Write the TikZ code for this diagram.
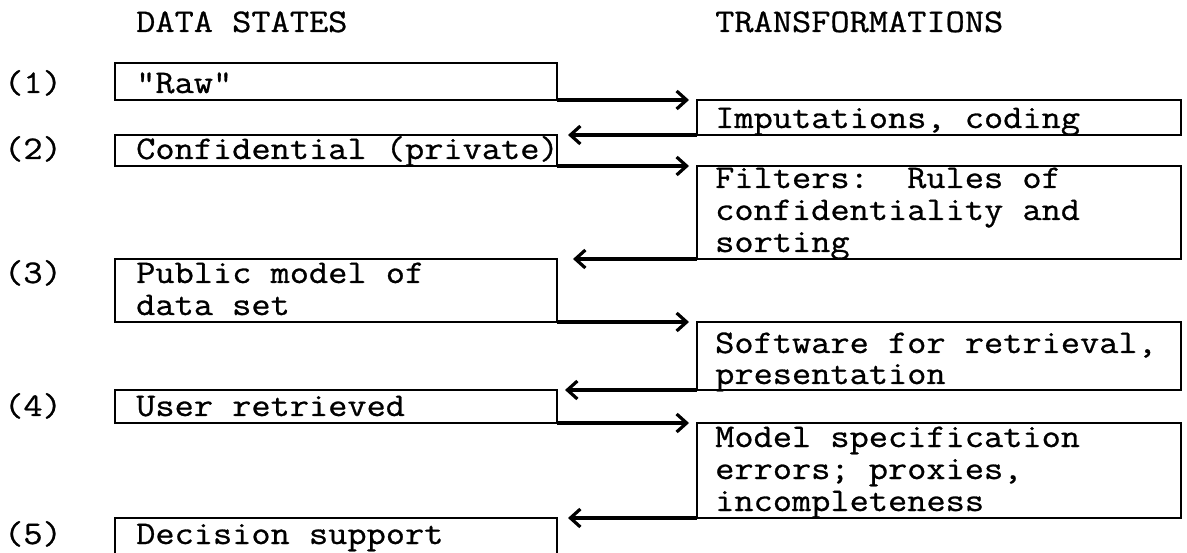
\documentclass[tikz,border=0pt]{standalone}
\usepackage{fontspec}
\newfontfamily\twfont[FakeStretch=1.13,FakeBold=0.8]{Latin Modern Mono}
\usetikzlibrary{arrows.meta}
\begin{document}
\begin{tikzpicture}[x=1pt,y=-1pt,
  box/.style={draw, line width=1.8pt, rectangle, inner sep=0pt, outer sep=0pt, anchor=north west},
  txt/.style={font=\twfont\fontsize{33}{32}\selectfont\frenchspacing, inner sep=0pt, anchor=base west},
  arr/.style={line width=3.4pt, -{Straight Barb[length=10pt,width=18pt,line width=3.2pt]}}]
\useasboundingbox (0,0) rectangle (1187,553);

% titles
\node[txt] (h1) at (136,32) {DATA STATES};
\node[txt] (h2) at (715,32) {TRANSFORMATIONS};

% data state boxes
\node[box, minimum width=442pt, minimum height=37pt] (s1) at (115,63) {};
\node[box, minimum width=442pt, minimum height=31pt] (s2) at (115,135) {};
\node[box, minimum width=442pt, minimum height=63pt] (s3) at (115,259) {};
\node[box, minimum width=442pt, minimum height=33pt] (s4) at (115,390) {};
\node[box, draw=none, minimum width=442pt, minimum height=35pt] (s5) at (115,518) {};
\draw[line width=1.8pt] (s5.south west) -- (s5.north west) -- (s5.north east) -- (s5.south east);

% transformation boxes
\node[box, minimum width=484pt, minimum height=35pt] (t1) at (697,100) {};
\node[box, minimum width=484pt, minimum height=93pt] (t2) at (697,166) {};
\node[box, minimum width=484pt, minimum height=68pt] (t3) at (697,322) {};
\node[box, minimum width=484pt, minimum height=95pt] (t4) at (697,423) {};

% numbers
\node[txt] (n1) at (4,93) {(1)};
\node[txt] (n2) at (4,159) {(2)};
\node[txt] (n3) at (4,283) {(3)};
\node[txt] (n4) at (4,416) {(4)};
\node[txt] (n5) at (4,544) {(5)};

% data state texts
\node[txt] (a1) at (136,93) {"Raw"};
\node[txt] (a2) at (136,159) {Confidential (private)};
\node[txt] (a3) at (136,283) {Public model of};
\node[txt] (a3b) at (136,315) {data set};
\node[txt] (a4) at (136,416) {User retrieved};
\node[txt] (a5) at (136,544) {Decision support};

% transformation texts
\node[txt] (b1) at (715,128) {Imputations, coding};
\node[txt] (b2) at (715,188) {Filters:\ \ Rules of};
\node[txt] (b2b) at (715,220) {confidentiality and};
\node[txt] (b2c) at (715,252) {sorting};
\node[txt] (b3) at (715,353) {Software for retrieval,};
\node[txt] (b3b) at (715,384) {presentation};
\node[txt] (b4) at (715,447) {Model specification};
\node[txt] (b4b) at (715,479) {errors; proxies,};
\node[txt] (b4c) at (715,511) {incompleteness};

% connectors
\draw[arr] (s1.south east) -- ([xshift=-8pt]t1.north west);
\draw[arr] (t1.south west) -- ([xshift=11pt]s2.north east);
\draw[arr] (s2.south east) -- ([xshift=-8pt]t2.north west);
\draw[arr] (t2.south west) -- ([xshift=16pt]s3.north east);
\draw[arr] (s3.south east) -- ([xshift=-8pt]t3.north west);
\draw[arr] (t3.south west) -- ([xshift=8pt]s4.north east);
\draw[arr] (s4.south east) -- ([xshift=-8pt]t4.north west);
\draw[arr] (t4.south west) -- ([xshift=11pt]s5.north east);
\end{tikzpicture}
\end{document}
